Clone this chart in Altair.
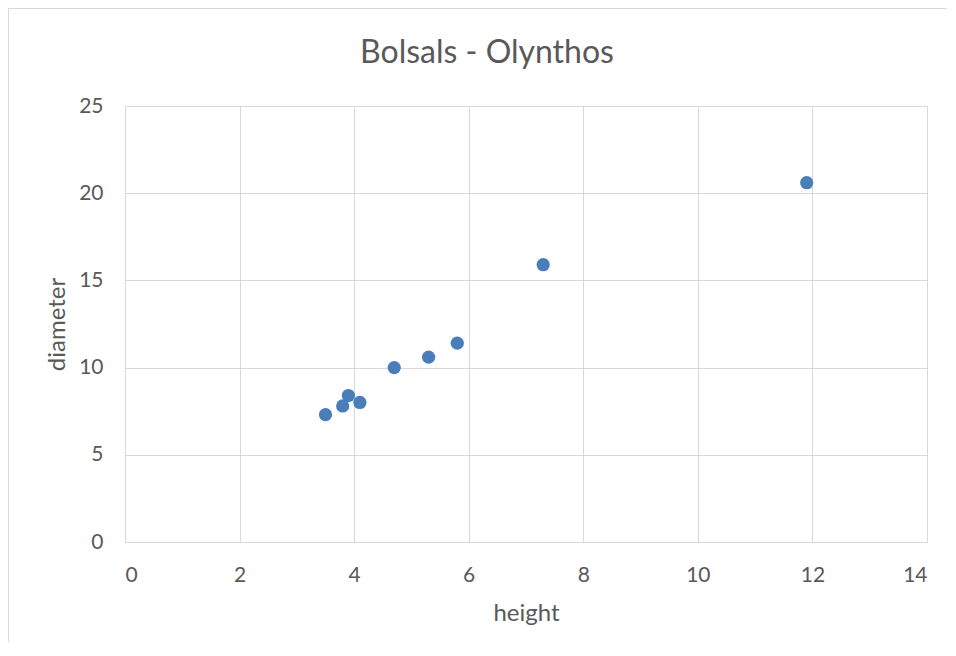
import altair as alt
import pandas as pd

# Data
height_vals = [3.5, 3.8, 3.9, 4.1, 4.7, 5.3, 5.8, 7.3, 11.9]
diameter_vals = [7.3, 7.8, 8.4, 8.0, 10.0, 10.6, 11.4, 15.9, 20.6]
x_ticks = [0, 2, 4, 6, 8, 10, 12, 14]
y_ticks = [0, 5, 10, 15, 20, 25]

df = pd.DataFrame({"height": height_vals, "diameter": diameter_vals})

GRID = "#d9d9d9"
TEXT = "#595959"
FONT = "Lato"

points = alt.Chart(df).mark_circle(size=175, color="#4a7ebb", opacity=1).encode(
    x=alt.X(
        "height:Q",
        scale=alt.Scale(domain=[0, 14], nice=False, zero=True),
        axis=alt.Axis(values=x_ticks, title="height", labelPadding=22,
                      titlePadding=16, domain=True, domainColor=GRID),
    ),
    y=alt.Y(
        "diameter:Q",
        scale=alt.Scale(domain=[0, 25], nice=False, zero=True),
        axis=alt.Axis(values=y_ticks, title="diameter", labelPadding=22,
                      titlePadding=9, domain=False),
    ),
)

one = pd.DataFrame({"a": [0]})
top_edge = alt.Chart(one).mark_rule(color=GRID, strokeWidth=1).encode(
    x=alt.value(-116.5), x2=alt.value(2000), y=alt.value(-97.5)
)
left_edge = alt.Chart(one).mark_rule(color=GRID, strokeWidth=1).encode(
    x=alt.value(-116.5), y=alt.value(-97.5), y2=alt.value(2000)
)

chart = alt.layer(points, top_edge, left_edge).properties(
    width=802,
    height=436,
    autosize="none",
    padding={"left": 117, "top": 98, "right": 20, "bottom": 100},
    title=alt.TitleParams(
        "Bolsals - Olynthos",
        anchor="middle",
        frame="group",
        dx=-39,
        offset=-62,
        font=FONT,
        fontSize=32,
        fontWeight="normal",
        color=TEXT,
    ),
).configure_view(stroke=None).configure_axis(
    grid=True,
    gridColor=GRID,
    gridWidth=1,
    ticks=False,
    labelColor=TEXT,
    labelFont=FONT,
    labelFontSize=21,
    titleColor=TEXT,
    titleFont=FONT,
    titleFontSize=24,
    titleFontWeight="normal",
)

chart.save("out.html", embed_options={"renderer": "svg", "actions": False})
